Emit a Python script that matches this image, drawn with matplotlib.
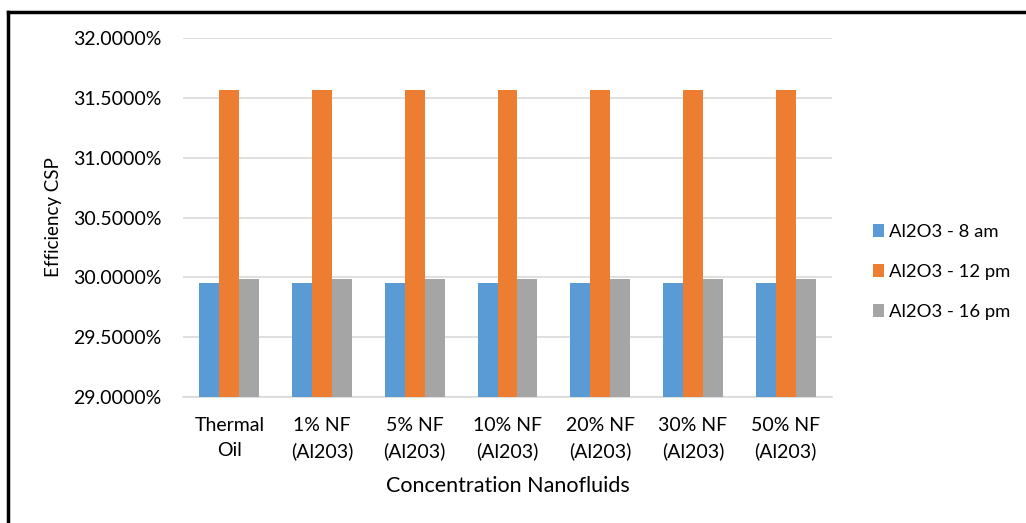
import matplotlib
matplotlib.use("Agg")
import matplotlib.pyplot as plt
import numpy as np
from matplotlib.ticker import FuncFormatter, MultipleLocator
from matplotlib.lines import Line2D

plt.rcParams['font.family'] = ['Lato', 'DejaVu Sans']

categories = ["Thermal\nOil", "1% NF\n(Al203)", "5% NF\n(Al203)", "10% NF\n(Al203)",
              "20% NF\n(Al203)", "30% NF\n(Al203)", "50% NF\n(Al203)"]
series_names = ["Al2O3 - 8 am", "Al2O3 - 12 pm", "Al2O3 - 16 pm"]
am8 = [0.29953] * 7
pm12 = [0.31569] * 7
pm16 = [0.29987] * 7
colors = ["#5B9BD5", "#ED7D31", "#A5A5A5"]

W, H = 1026, 523
fig = plt.figure(figsize=(W / 100, H / 100), dpi=100)
ax = fig.add_axes([183 / W, 1 - 397 / H, (832 - 183) / W, (397 - 38) / H])

x = np.arange(len(categories))
bw = 0.215
for i, (vals, name, c) in enumerate(zip([am8, pm12, pm16], series_names, colors)):
    ax.bar(x + (i - 1) * bw, vals, width=bw, color=c, label=name, zorder=3)

ax.set_ylim(0.29, 0.32)
ax.set_xlim(-0.5, len(categories) - 0.5)
ax.yaxis.set_major_locator(MultipleLocator(0.005))
ax.yaxis.set_major_formatter(FuncFormatter(lambda v, p: f"{v*100:.4f}%"))
ax.grid(axis='y', color='#D9D9D9', linewidth=1.2, zorder=0)
ax.set_xticks(x)
ax.set_xticklabels(categories, fontsize=14, color='#000000', linespacing=1.55)
ax.tick_params(axis='y', labelsize=14, length=0, pad=15.5)
ax.tick_params(axis='x', length=0, pad=14.5)
for s in ['top', 'right', 'left']:
    ax.spines[s].set_visible(False)
ax.spines['bottom'].set_color('#D9D9D9')
ax.spines['bottom'].set_linewidth(1.2)
ax.set_xlabel("Concentration Nanofluids", fontsize=15.5, labelpad=11)
ax.set_ylabel("Efficiency CSP", fontsize=13.5, labelpad=8)

ax.legend(loc='center left', bbox_to_anchor=(856 / W, 1 - 272 / H), bbox_transform=fig.transFigure,
          frameon=False, fontsize=13.3, handlelength=0.6, handleheight=0.65,
          labelspacing=1.3, handletextpad=0.3)

fig.add_artist(Line2D([8 / W, 1], [1 - 12 / H, 1 - 12 / H], color='black', linewidth=2.5,
                      transform=fig.transFigure))
fig.add_artist(Line2D([8 / W, 8 / W], [1 - 12 / H, 0], color='black', linewidth=2.5,
                      transform=fig.transFigure))

fig.savefig("out.png", dpi=100, facecolor='white')
